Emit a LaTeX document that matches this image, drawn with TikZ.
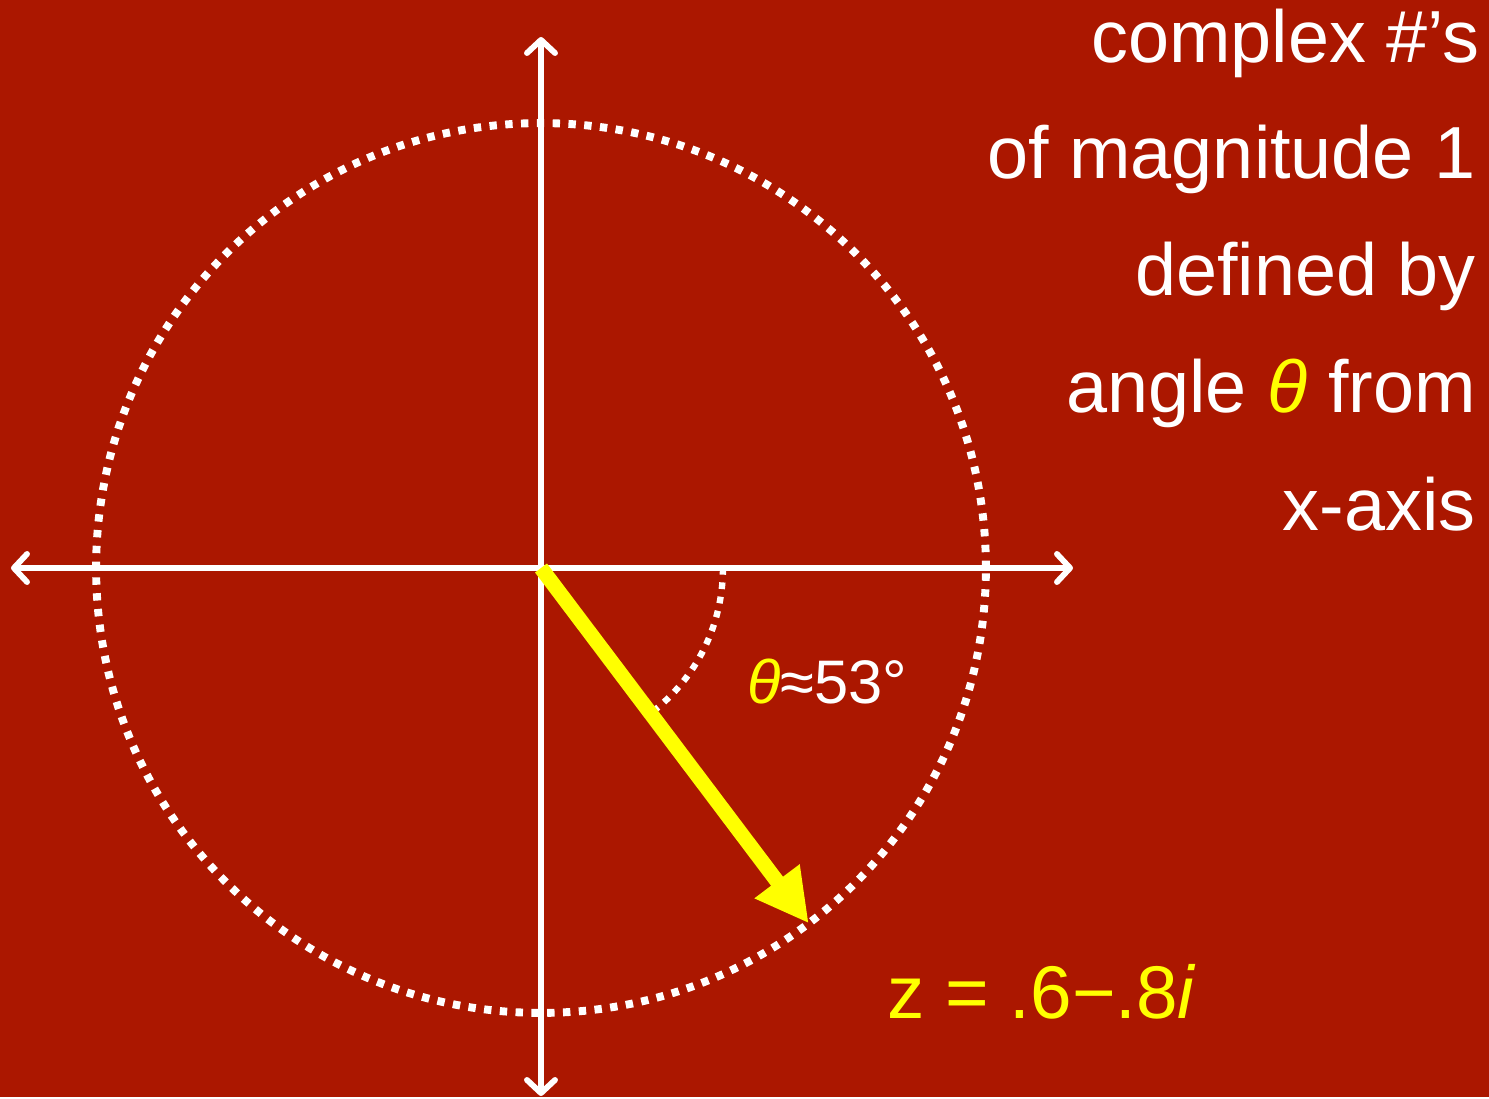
\documentclass[tikz,border=0pt]{standalone}
\usepackage{fontspec}
\setmainfont{Liberation Sans}
\usetikzlibrary{arrows.meta,calc}
\definecolor{Brick}{HTML}{AB1700}
\definecolor{Lemon}{HTML}{FFFF00}

\begin{document}
\begin{tikzpicture}[x=0.02cm, y=-0.02cm,
    axis/.style={white, line width=3.3pt, {Straight Barb[length=7.5pt,width=16pt,round]}-{Straight Barb[length=7.5pt,width=16pt,round]}},
    dots/.style={white, line width=4.5pt, dash pattern=on 4.2pt off 4.8pt},
    sidetext/.style={anchor=base east, inner sep=0pt, text=white, font=\fontsize{42}{50}\selectfont}]
    \fill[Brick] (0,0) rectangle (1489,1097);
    \coordinate (O) at (541,568);
    \coordinate (xl) at (11,568);
    \coordinate (xr) at (1073,568);
    \coordinate (yt) at (541,37);
    \coordinate (yb) at (541,1096);
    \coordinate (z) at ($(O)+(-53:8.9cm)$);
    \coordinate (a0) at ($(O)+(0:3.64cm)$);
    % unit circle and axes
    \draw[dots] (O) circle[radius=8.9cm];
    \draw[axis] (xl) -- (xr);
    \draw[axis] (yb) -- (yt);
    \draw[white, line width=3.6pt, dash pattern=on 3.8pt off 4.4pt] (a0) arc[start angle=0, end angle=-53, radius=3.64cm];
    \draw[Lemon, line width=8.5pt, -{Triangle[length=30pt,width=30pt]}] (O) -- (z);
    % labels
    \node[anchor=base west, inner sep=0pt, text=white, font=\fontsize{35}{42}\selectfont] (ang) at (747,703) {{\color{Lemon}\itshape θ}≈53°};
    \node[anchor=base west, inner sep=0pt, text=Lemon, font=\fontsize{42.5}{50}\selectfont] (zval) at (887,1018) {z = .6−.8{\itshape i}};
    \node[sidetext] (l1) at (1480,63) {complex \#’s};
    \node[sidetext] (l2) at (1476,179) {of magnitude 1};
    \node[sidetext] (l3) at (1476,296) {defined by};
    \node[sidetext] (l4) at (1476,413) {angle {\color{Lemon}\itshape θ} from};
    \node[sidetext] (l5) at (1476,530) {x-axis};
\end{tikzpicture}
\end{document}
